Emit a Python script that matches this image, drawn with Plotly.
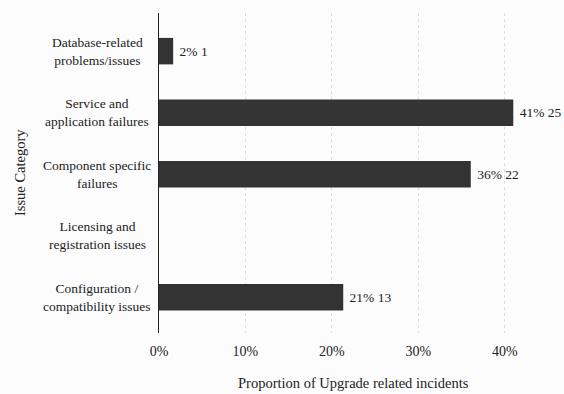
import plotly.graph_objects as go

categories = ["Database-related<br>problems/issues", "Service and<br>application failures",
              "Component specific<br>failures", "Licensing and<br>registration issues",
              "Configuration /<br>compatibility issues"]
counts = [1, 25, 22, 0, 13]
total = sum(counts)
shares = [c / total for c in counts]
labels = [f"\u00a0{round(s*100)}% {c}" if c > 0 else "" for s, c in zip(shares, counts)]

font_family = "Liberation Serif"
W, H = 564, 394
ml, mr, mt, mb = 159, 16, 13, 61
xmax = 0.45
pw, ph = W - ml - mr, H - mt - mb

fig = go.Figure(go.Bar(
    x=shares, y=list(range(len(categories))), orientation="h",
    marker=dict(color="#333333", line=dict(width=0)),
    width=0.43,
    text=labels, textposition="outside", cliponaxis=False, constraintext="none",
    textfont=dict(family=font_family, size=13.5, color="#222222"),
))

annotations = []
for i, cat in enumerate(categories):
    annotations.append(dict(
        x=-62 / pw, xref="paper", y=i, yref="y",
        text=cat, showarrow=False, xanchor="center", yanchor="middle",
        align="center", font=dict(family=font_family, size=13.5, color="#222222"),
    ))
annotations.append(dict(
    x=-139 / pw, xref="paper", y=0.5, yref="paper",
    text="Issue Category", textangle=-90, showarrow=False,
    xanchor="center", yanchor="middle",
    font=dict(family=font_family, size=14.5, color="#222222"),
))
annotations.append(dict(
    x=0.5, xref="paper", y=-50 / ph, yref="paper",
    text="Proportion of Upgrade related incidents", showarrow=False,
    xanchor="center", yanchor="middle",
    font=dict(family=font_family, size=14.5, color="#222222"),
))

fig.update_layout(
    width=W, height=H,
    margin=dict(l=ml, r=mr, t=mt, b=mb, autoexpand=False),
    paper_bgcolor="#fcfcfc", plot_bgcolor="#fcfcfc",
    showlegend=False,
    annotations=annotations,
    xaxis=dict(
        range=[0, xmax], tickvals=[0, 0.1, 0.2, 0.3, 0.4], tickformat=".0%",
        showgrid=True, gridcolor="#dddddd", griddash="dot", gridwidth=1,
        zeroline=False, showline=False, ticks="", ticklabelstandoff=8,
        tickfont=dict(family=font_family, size=14, color="#222222"),
        automargin=False,
    ),
    yaxis=dict(
        range=[4.58, -0.62], showticklabels=False, showgrid=False, zeroline=False,
        showline=True, linecolor="#222222", linewidth=1, ticks="", automargin=False,
    ),
)

fig.write_html("out.html")
